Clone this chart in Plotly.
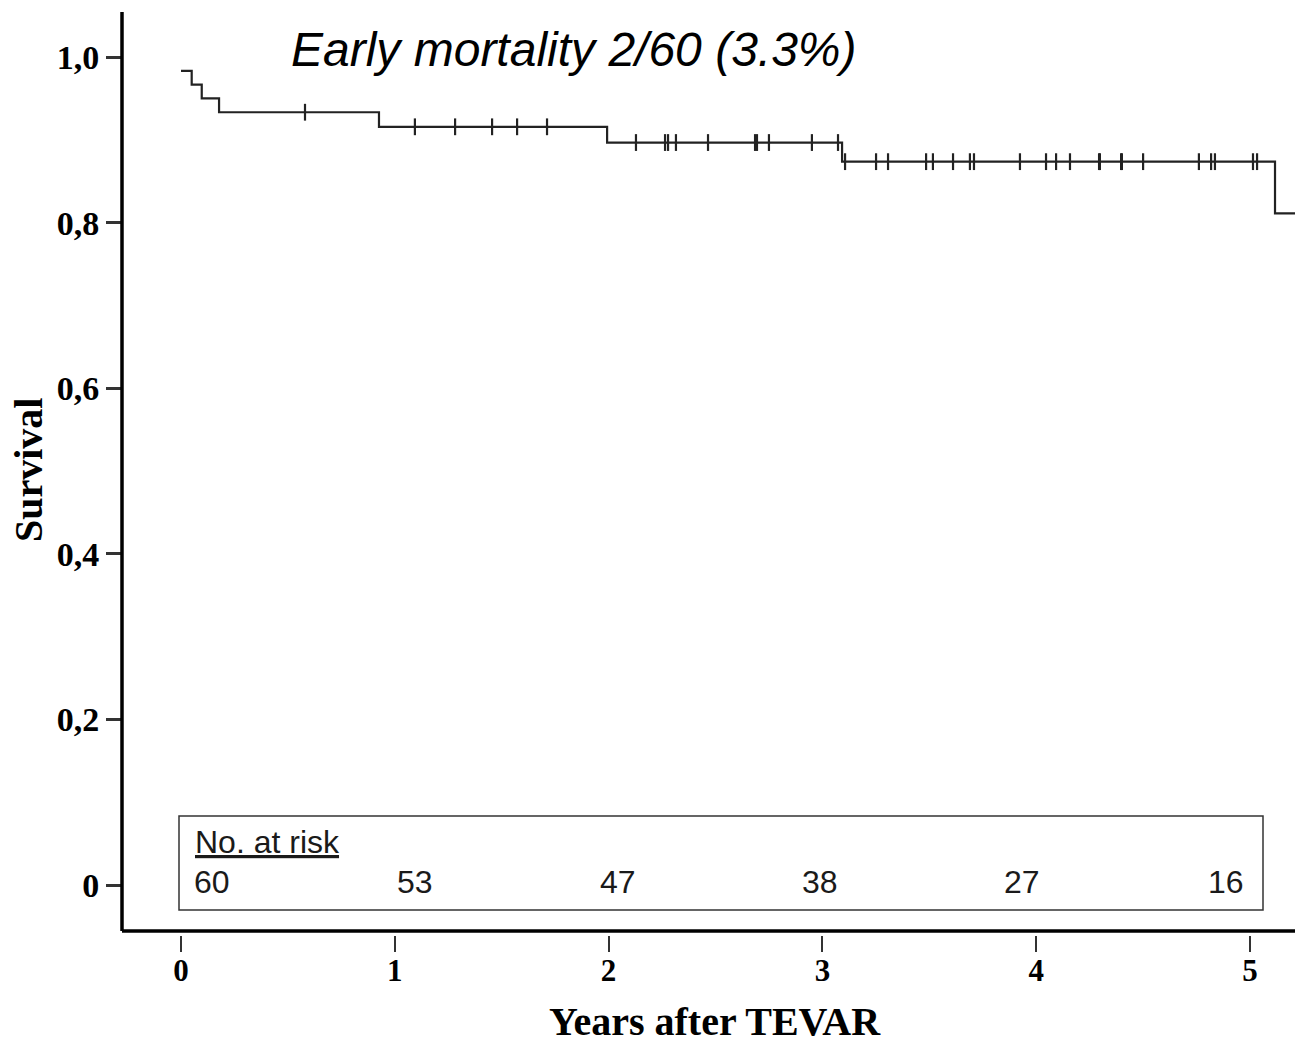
import plotly.graph_objects as go

# ---------------- data ----------------
death_times = [0.0, 0.05, 0.097, 0.178, 0.926, 1.993, 3.092, 5.117]
survival = [0.9833, 0.9667, 0.95, 0.9333, 0.9157, 0.8967, 0.8736, 0.8112]
follow_end = 5.25

censor_times = [0.580, 1.094, 1.282, 1.455, 1.572, 1.712,
                2.128, 2.264, 2.278, 2.315, 2.465, 2.685, 2.694, 2.750, 2.951, 3.073,
                3.106, 3.251, 3.307, 3.485, 3.517, 3.611, 3.690, 3.709, 3.924,
                4.046, 4.093, 4.158, 4.294, 4.298, 4.397, 4.401, 4.500, 4.761,
                4.818, 4.836, 5.014, 5.033]

at_risk = [60, 53, 47, 38, 27, 16]

x_ticks = [0, 1, 2, 3, 4, 5]
x_ticklabels = ["0", "1", "2", "3", "4", "5"]
y_ticks = [0, 0.2, 0.4, 0.6, 0.8, 1.0]
y_ticklabels = ["0", "0,2", "0,4", "0,6", "0,8", "1,0"]

title_text = "Early mortality 2/60 (3.3%)"
x_title = "Years after TEVAR"
y_title = "Survival"

# ---------------- helpers ----------------
def level_at(t):
    lvl = survival[0]
    for dt, s in zip(death_times, survival):
        if dt <= t:
            lvl = s
    return lvl

censor_levels = [level_at(t) for t in censor_times]

W, H = 1295, 1047
L, R, T, B = 122, 0, 12, 112
PW, PH = W - L - R, H - T - B


def px(x):
    return (x - L) / PW


def py(y):
    return (H - B - y) / PH


serif = "Liberation Serif, Times New Roman, serif"
sans = "Liberation Sans, Arial, sans-serif"

fig = go.Figure()

fig.add_trace(go.Scatter(
    x=death_times + [follow_end],
    y=survival + [survival[-1]],
    mode="lines",
    line=dict(shape="hv", color="#222222", width=2.2),
    hoverinfo="skip",
    showlegend=False,
))

fig.add_trace(go.Scatter(
    x=censor_times,
    y=censor_levels,
    mode="markers",
    marker=dict(symbol="line-ns", size=12, line=dict(color="#222222", width=2.2)),
    hoverinfo="skip",
    showlegend=False,
))

shapes = [
    # y axis line
    dict(type="line", xref="paper", yref="paper", x0=0, x1=0, y0=py(931), y1=1,
         line=dict(color="black", width=3.5)),
    # x axis line
    dict(type="line", xref="paper", yref="paper", x0=0, x1=1, y0=py(931), y1=py(931),
         line=dict(color="black", width=3.5)),
    # at-risk box
    dict(type="rect", xref="paper", yref="paper", x0=px(179), x1=px(1263),
         y0=py(910), y1=py(816), line=dict(color="#333333", width=1.5)),
]

annotations = [
    dict(text=title_text, xref="paper", yref="paper", x=px(574), y=py(49),
         showarrow=False, xanchor="center", yanchor="middle",
         font=dict(family=sans, size=48, color="black", style="italic")),
    dict(text=x_title, xref="paper", yref="paper", x=px(715), y=py(1021),
         showarrow=False, xanchor="center", yanchor="middle",
         font=dict(family=serif, size=40, color="black", weight="bold")),
    dict(text=y_title, xref="paper", yref="paper", x=px(28), y=py(470),
         showarrow=False, xanchor="center", yanchor="middle", textangle=-90,
         font=dict(family=serif, size=40, color="black", weight="bold")),
    dict(text="<u>No. at risk</u>", xref="paper", yref="paper", x=px(193), y=py(842),
         showarrow=False, xanchor="left", yanchor="middle",
         font=dict(family=sans, size=32, color="#1a1a1a")),
]

risk_centers = [212, 415, 618, 820, 1022, 1226]
for n, cx in zip(at_risk, risk_centers):
    annotations.append(dict(text=str(n), xref="paper", yref="paper", x=px(cx), y=py(882),
                            showarrow=False, xanchor="center", yanchor="middle",
                            font=dict(family=sans, size=32, color="#1a1a1a")))

x0 = (L - 181) / 213.8
x1 = (W - R - 181) / 213.8
y_top = (885 - T) / 828
y_bot = (885 - (H - B)) / 828

fig.update_layout(
    width=W, height=H,
    margin=dict(l=L, r=R, t=T, b=B, pad=0),
    paper_bgcolor="white", plot_bgcolor="white",
    shapes=shapes, annotations=annotations,
    xaxis=dict(range=[x0, x1], tickvals=x_ticks, ticktext=x_ticklabels,
               showgrid=False, zeroline=False, showline=False,
               ticks="outside", ticklen=16, tickwidth=2.2, tickcolor="#333333",
               ticklabelstandoff=-8,
               tickfont=dict(family=serif, size=31, color="black", weight="bold")),
    yaxis=dict(range=[y_bot, y_top], tickvals=y_ticks, ticktext=y_ticklabels,
               showgrid=False, zeroline=False, showline=False,
               ticks="outside", ticklen=15, tickwidth=2.5, tickcolor="#333333",
               tickfont=dict(family=serif, size=34, color="black", weight="bold")),
)

fig.write_html("out.html", config={"displayModeBar": False},
               post_script="document.body.style.margin='0px';document.body.style.overflow='hidden';")
